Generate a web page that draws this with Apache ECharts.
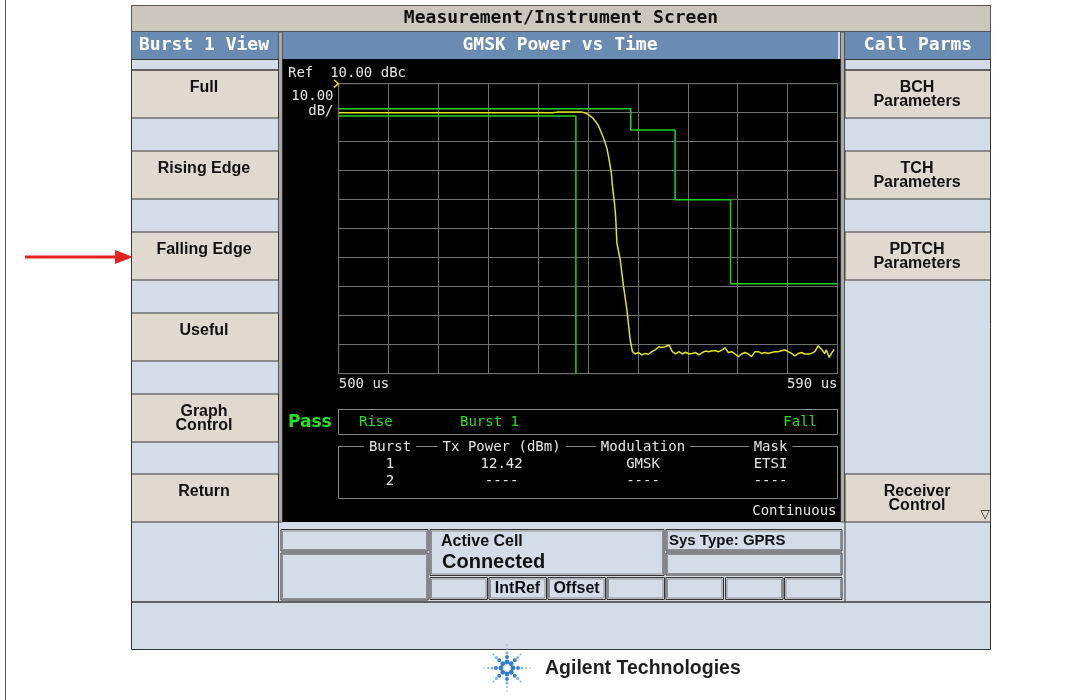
<!DOCTYPE html>
<html>
<head>
<meta charset="utf-8">
<title>GMSK Power vs Time</title>
<script src="https://cdn.jsdelivr.net/npm/echarts/dist/echarts.min.js"></script>
<style>
  html, body { margin: 0; padding: 0; background: #fff; }
  #chart { width: 1071px; height: 700px; }
</style>
</head>
<body>
<div id="chart"></div>
<script>
// time axis: 500 us .. 590 us, 9 us/div ; level axis: ref 10 dBc, 10 dB/div
const T0 = 500
const xTickLabels = ['500 us', '590 us']

// measured trace (yellow)
const traceTime = [
  500, 503.0, 503.2, 503.4, 506.6, 506.8, 507.0, 525.6, 525.8, 526.0, 528.3, 528.5, 528.7, 530.1, 530.3, 530.5, 538.2, 538.4, 538.6, 539.4, 540.8, 542.6, 543.9,
  544.7, 545.9, 546.8, 547.7, 548.4, 548.8, 549.2, 549.4, 549.7, 549.9, 550.0, 550.2, 550.8, 551.4, 552.0, 552.6, 553.0,
  553.5, 554.1, 554.7, 555.3, 555.9, 556.5, 557.1, 557.8, 558.3, 558.9, 559.6, 560.2, 560.8, 561.4, 562.0, 562.6, 563.2, 563.8, 564.4, 565.0,
  565.6, 566.2, 566.8, 567.4, 568.0, 568.6, 569.2, 569.7, 570.3, 570.9, 571.5, 572.1, 572.7, 573.3, 573.9, 574.5, 575.1, 575.7, 576.3, 576.9,
  577.5, 578.1, 578.7, 579.3, 579.9, 580.5, 581.1, 581.7, 582.3, 582.9, 583.5, 584.1, 584.7, 585.3, 585.9, 586.5, 587.1, 587.7, 588.0, 588.5, 588.9, 589.4
]
const traceDb = [
  0, 0, 0.4, 0, 0, 0.4, 0, 0, 0.4, 0, 0, 0.4, 0, 0, 0.4, 0, 0, 0.4, 0, 0.2, 0.2, 0.2, 0.2,
  -0.2, -1.9, -4.2, -8.3, -12.3, -16.3, -20.9, -25.5, -30.1, -34, -37, -45, -50.8, -60, -68, -78.4, -82.4,
  -83.2, -82.7, -83.5, -83.0, -83.3, -82.4, -81.8, -80.7, -81.0, -80.7, -80.1, -82.4, -83.2, -82.4, -83.2, -82.6, -83.2, -83.0, -82.7, -83.5,
  -82.7, -82.2, -82.4, -82.1, -82.1, -82.4, -81.8, -81.0, -82.7, -82.4, -83.2, -84.1, -83.2, -82.7, -83.2, -84.1, -82.4, -82.4, -83.0, -82.7,
  -83.0, -82.7, -82.4, -82.4, -82.1, -81.8, -82.4, -83.0, -83.9, -83.0, -82.7, -83.2, -83.2, -83.0, -82.4, -80.4, -81.6, -83.0, -81.8, -84.4, -83.0, -81.6
]

// ETSI mask (green)
const upperMaskTime = [500, 552.7, 552.7, 560.7, 560.7, 570.7, 570.7, 590]
const upperMaskDb = [1.4, 1.4, -6, -6, -30, -30, -59, -59]
const lowerMaskTime = [500, 542.8, 542.8]
const lowerMaskDb = [-1.1, -1.1, -90]

// result table
const tableHeads = ['Burst', 'Tx Power (dBm)', 'Modulation', 'Mask']
const row1 = ['1', '12.42', 'GMSK', 'ETSI']
const row2 = ['2', '----', '----', '----']

const leftButtons = [['Full'], ['Rising Edge'], ['Falling Edge'], ['Useful'], ['Graph', 'Control'], ['Return']]
const rightButtons = [['BCH', 'Parameters'], ['TCH', 'Parameters'], ['PDTCH', 'Parameters'], null, null, ['Receiver', 'Control']]

const C = {
  title: '#cbc7bf',
  head: '#6a8cb3',
  btn: '#e0d9cf',
  pale: '#d4dce7',
  edge: '#3a3a3a',
  grid: '#707070',
  green: '#1fd21f',
  yellow: '#e3e31a',
  txt: '#e6e6e6'
}
const MONO = '"DejaVu Sans Mono", monospace'
const SANS = '"Liberation Sans", Arial, sans-serif'

const g = []
const rect = (x, y, w, h, fill, stroke, z) => g.push({
  type: 'rect', z: z || -5, silent: true,
  shape: { x, y, width: w, height: h },
  style: { fill: fill || 'none', stroke: stroke || null, lineWidth: 1 }
})
const text = (x, y, str, font, color, align, extra) => g.push({
  type: 'text', z: 20, silent: true,
  style: Object.assign({
    x, y, text: str, font, fill: color,
    textAlign: align || 'left', align: align || 'left',
    textVerticalAlign: 'middle', verticalAlign: 'middle'
  }, extra || {})
})

// page frame
g.push({ type: 'line', z: -5, silent: true, shape: { x1: 5.5, y1: 0, x2: 5.5, y2: 700 }, style: { stroke: '#555', lineWidth: 1 } })
rect(131.5, 5.5, 859, 644, C.pale, '#333')

// title bar + headers
rect(131.5, 5.5, 859, 26, C.title, '#555')
text(561, 18.5, 'Measurement/Instrument Screen', 'bold 18px ' + MONO, '#111', 'center')
rect(131.5, 32, 147, 27, C.head)
rect(283, 32, 555, 27, C.head)
rect(845, 32, 145.5, 27, C.head)
text(204, 45.5, 'Burst 1 View', 'bold 18px ' + MONO, '#fff', 'center')
text(560, 45.5, 'GMSK Power vs Time', 'bold 18px ' + MONO, '#fff', 'center')
text(918, 45.5, 'Call Parms', 'bold 18px ' + MONO, '#fff', 'center')

// separators between columns
rect(278.5, 32, 4, 490, '#a9a9a9', '#555')
rect(840.5, 32, 4, 490, '#a9a9a9', '#555')

// black screen
rect(282.5, 59, 558, 463, '#000')

// soft key columns
const btnTop = [70, 151, 232, 313, 394, 474]
const keyText = (cx, top, lab) => lab.forEach((l, k) => text(cx, top + (lab.length === 1 ? 18 : 17.5 + k * 14.5), l, 'bold 16px ' + SANS, '#111', 'center'))
leftButtons.forEach((lab, i) => {
  rect(131.5, btnTop[i], 147, 48, C.btn, C.edge)
  keyText(204, btnTop[i], lab)
})
rect(131.5, 59.5, 147, 10.5, null, C.edge)
rightButtons.forEach((lab, i) => {
  if (!lab) return
  rect(845, btnTop[i], 145.5, 48, C.btn, C.edge)
  keyText(917, btnTop[i], lab)
})
rect(845, 59.5, 145.5, 10.5, null, C.edge)
text(985, 515, '▽', '12px "DejaVu Sans"', '#111', 'center')

// lower status region
g.push({ type: 'line', z: -4, silent: true, shape: { x1: 278.5, y1: 522, x2: 278.5, y2: 602 }, style: { stroke: C.edge, lineWidth: 1 } })
g.push({ type: 'line', z: -4, silent: true, shape: { x1: 845, y1: 522, x2: 845, y2: 602 }, style: { stroke: C.edge, lineWidth: 1 } })
g.push({ type: 'line', z: -4, silent: true, shape: { x1: 131.5, y1: 602, x2: 990.5, y2: 602 }, style: { stroke: C.edge, lineWidth: 1.5 } })
const sbox = (x, y, w, h) => {
  rect(x, y, w, h, C.pale, '#333', -3)
  rect(x + 1.5, y + 1.5, w - 3, h - 3, null, '#8f8f8f', -3)
}
sbox(281, 529.5, 147, 21.5)
sbox(281, 553, 147, 47)
sbox(430, 529.5, 234, 46)
;[430, 489, 548, 607].forEach(x => sbox(x, 577.5, 57.5, 22))
sbox(666, 529.5, 176, 21.5)
sbox(666, 553, 176, 22)
;[666, 725.5, 784.5].forEach(x => sbox(x, 577.5, 57.5, 22))
text(441, 541.5, 'Active Cell', 'bold 16px ' + SANS, '#111')
text(442, 562, 'Connected', 'bold 20px ' + SANS, '#111')
text(669, 540.5, 'Sys Type: GPRS', 'bold 15px ' + SANS, '#111')
text(517.5, 589, 'IntRef', 'bold 16px ' + SANS, '#111', 'center')
text(576.5, 589, 'Offset', 'bold 16px ' + SANS, '#111', 'center')

// screen labels
text(288, 73, 'Ref  10.00 dBc', '14px ' + MONO, C.txt)
text(333.5, 96.5, '10.00', '14px ' + MONO, C.txt, 'right')
text(333.5, 111, 'dB/', '14px ' + MONO, C.txt, 'right')
g.push({ type: 'polyline', z: 20, silent: true, shape: { points: [[334, 80], [338.5, 83.7], [334, 87.3]] }, style: { stroke: C.yellow, lineWidth: 1.5, fill: 'none' } })

text(288, 423, 'Pass', 'bold 17px "DejaVu Sans"', '#22e022')
rect(338.5, 409.5, 499, 25, null, '#8a8a8a', 5)
text(359, 422, 'Rise', '14px ' + MONO, '#22e022')
text(460, 422, 'Burst 1', '14px ' + MONO, '#22e022')
text(817, 422, 'Fall', '14px ' + MONO, '#22e022', 'right')

rect(338.5, 446.5, 499, 52, null, '#8a8a8a', 5)
const colX = [390, 501.6, 643, 770.5]
tableHeads.forEach((h, i) => text(colX[i], 447, h, '14px ' + MONO, C.txt, 'center', { backgroundColor: '#000', padding: [0, 5] }))
row1.forEach((v, i) => text(colX[i], 464.5, v, '14px ' + MONO, C.txt, 'center'))
row2.forEach((v, i) => text(colX[i], 481, v, '14px ' + MONO, C.txt, 'center'))
text(836.5, 511, 'Continuous', '14px ' + MONO, C.txt, 'right')

// red pointer arrow
g.push({ type: 'line', z: 5, silent: true, shape: { x1: 25, y1: 257, x2: 118, y2: 257 }, style: { stroke: '#e5211b', lineWidth: 3 } })
g.push({ type: 'polygon', z: 5, silent: true, shape: { points: [[115, 250], [133, 257], [115, 264]] }, style: { fill: '#e5211b' } })

// logo
const lc = [507, 668]
for (let a = 0; a < 8; a++) {
  const ang = a * Math.PI / 4
  const long = a % 2 === 0
  const rs = long ? [6, 11, 15, 19, 23] : [6, 11, 15, 19]
  rs.forEach((r, k) => g.push({
    type: 'circle', z: 5, silent: true,
    shape: { cx: lc[0] + r * Math.cos(ang), cy: lc[1] + r * Math.sin(ang), r: Math.max(0.7, 2.4 - k * 0.45) },
    style: { fill: k < 2 ? '#2f7fd0' : '#7fb2e3' }
  }))
}
text(545, 669, 'Agilent Technologies', 'bold 19.5px ' + SANS, '#1e1e1e')

const toXY = (ts, vs) => ts.map((t, i) => [t - T0, vs[i]])

const chart = echarts.init(document.getElementById('chart'))
chart.setOption({
  animation: false,
  backgroundColor: '#fff',
  grid: {
    left: 338.7, top: 83.7, width: 498.8, height: 290,
    show: true, borderColor: C.grid, borderWidth: 1, backgroundColor: 'transparent'
  },
  xAxis: {
    type: 'value', min: 0, max: 90, interval: 9,
    axisLine: { show: true, lineStyle: { color: C.grid } },
    axisTick: { show: false },
    splitLine: { show: true, lineStyle: { color: C.grid, width: 1 } },
    axisLabel: {
      show: true, margin: 4, color: C.txt, fontFamily: 'DejaVu Sans Mono', fontSize: 14,
      showMinLabel: true, showMaxLabel: true, alignMinLabel: 'left', alignMaxLabel: 'right',
      formatter: v => (v === 0 ? xTickLabels[0] : v === 90 ? xTickLabels[1] : '')
    }
  },
  yAxis: {
    type: 'value', min: -90, max: 10, interval: 10,
    axisLine: { show: true, lineStyle: { color: C.grid } },
    axisTick: { show: false },
    axisLabel: { show: false },
    splitLine: { show: true, lineStyle: { color: C.grid, width: 1 } }
  },
  series: [
    {
      name: 'Upper mask', type: 'line', data: toXY(upperMaskTime, upperMaskDb),
      showSymbol: false, lineStyle: { color: C.green, width: 1.5 }, z: 3
    },
    {
      name: 'Lower mask', type: 'line', data: toXY(lowerMaskTime, lowerMaskDb),
      showSymbol: false, lineStyle: { color: C.green, width: 1.5 }, z: 3
    },
    {
      name: 'Trace', type: 'line', data: toXY(traceTime, traceDb),
      showSymbol: false, lineStyle: { color: C.yellow, width: 1.5 }, z: 4
    }
  ],
  graphic: { elements: g }
})
</script>
</body>
</html>
